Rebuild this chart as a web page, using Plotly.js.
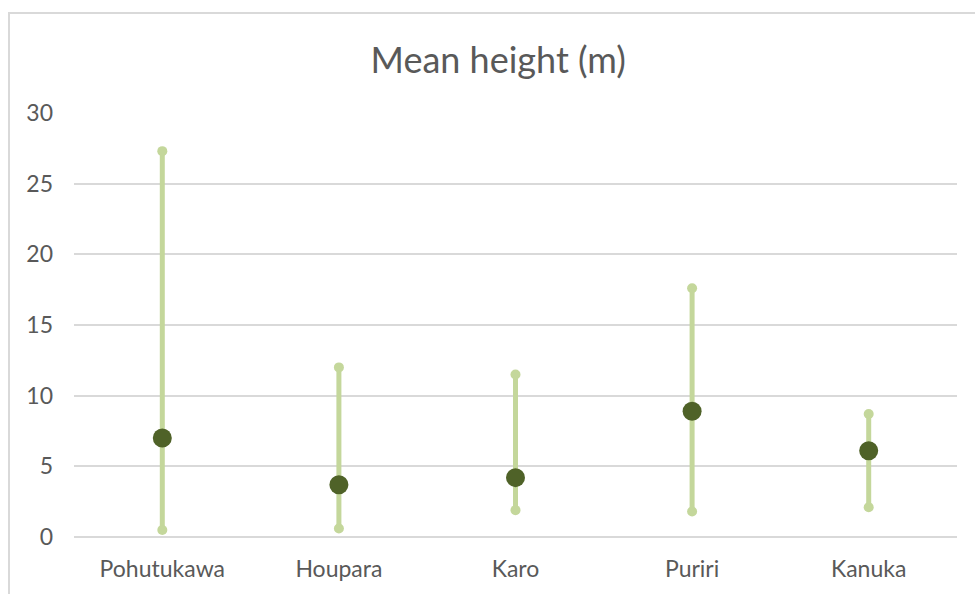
<!DOCTYPE html>
<html>
<head>
<meta charset="utf-8">
<script src="https://cdn.plot.ly/plotly-3.0.1.min.js"></script>
<style>
  html, body { margin: 0; padding: 0; width: 975px; height: 594px; overflow: hidden; background: #ffffff; }
  #frame { position: absolute; left: 8px; top: 12px; width: 1100px; height: 700px; border: 2px solid #d9d9d9; box-sizing: border-box; }
  #chart { position: absolute; left: 0; top: 0; width: 975px; height: 594px; }
</style>
</head>
<body>
<div id="frame"></div>
<div id="chart"></div>
<script>
const species = ["Pohutukawa", "Houpara", "Karo", "Puriri", "Kanuka"];
const minHeight = [0.5, 0.6, 1.9, 1.8, 2.1];
const maxHeight = [27.3, 12.0, 11.5, 17.6, 8.7];
const meanHeight = [7.0, 3.7, 4.2, 8.9, 6.1];
const yTicks = [0, 5, 10, 15, 20, 25, 30];

const rangeX = [], rangeY = [];
species.forEach((s, i) => {
  rangeX.push(s, s, null);
  rangeY.push(minHeight[i], maxHeight[i], null);
});

const rangeTrace = {
  type: "scatter", mode: "lines+markers",
  x: rangeX, y: rangeY,
  line: { color: "#c4d79b", width: 5 },
  marker: { color: "#c4d79b", size: 10 },
  hoverinfo: "skip", showlegend: false, cliponaxis: false
};
const meanTrace = {
  type: "scatter", mode: "markers",
  x: species, y: meanHeight,
  marker: { color: "#4f6228", size: 19 },
  showlegend: false, cliponaxis: false
};

const layout = {
  width: 975, height: 594,
  margin: { l: 74, r: 18, t: 113, b: 57 },
  paper_bgcolor: "rgba(0,0,0,0)",
  plot_bgcolor: "rgba(0,0,0,0)",
  font: { family: "Lato, sans-serif", color: "#595959" },
  title: {
    text: "Mean height (m)",
    font: { family: "Lato, sans-serif", size: 36, color: "#595959" },
    x: 0.511, xref: "container", xanchor: "center",
    y: 1 - 60 / 594, yref: "container", yanchor: "middle"
  },
  xaxis: {
    type: "category",
    categoryarray: species, categoryorder: "array",
    showgrid: false, zeroline: false, showline: false, ticks: "",
    tickfont: { size: 23, color: "#595959" },
    ticklabelstandoff: 16,
    range: [-0.5, species.length - 0.5]
  },
  yaxis: {
    range: [0, 30],
    tickvals: yTicks, ticktext: yTicks.map(String),
    showgrid: true, gridcolor: "#d9d9d9", gridwidth: 2,
    zeroline: true, zerolinecolor: "#d9d9d9", zerolinewidth: 2,
    showline: false, ticks: "",
    tickfont: { size: 23, color: "#595959" },
    ticklabelstandoff: 20
  },
  hovermode: false
};

Plotly.newPlot("chart", [rangeTrace, meanTrace], layout, { displayModeBar: false, staticPlot: true });
</script>
</body>
</html>
